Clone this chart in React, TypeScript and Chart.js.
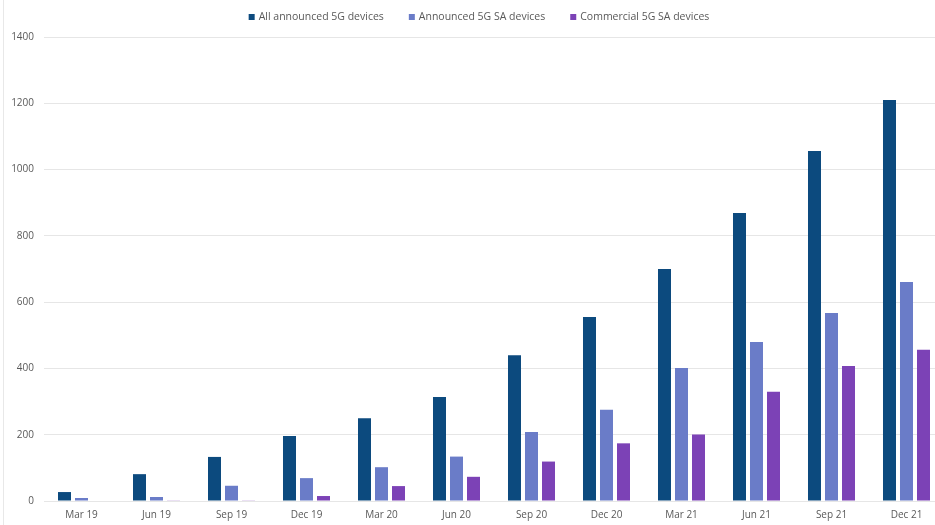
import React, { useEffect, useRef } from "react";
import { Chart, registerables } from "chart.js";

Chart.register(...registerables);

const quarters = [
  "Mar 19", "Jun 19", "Sep 19", "Dec 19", "Mar 20", "Jun 20",
  "Sep 20", "Dec 20", "Mar 21", "Jun 21", "Sep 21", "Dec 21",
];

const allAnnounced5G = [27, 81, 133, 196, 250, 314, 440, 555, 700, 869, 1056, 1210];
const announced5GSA = [9, 12, 46, 69, 102, 134, 208, 275, 401, 480, 567, 661];
const commercial5GSA = [0, 2, 2, 15, 45, 73, 119, 174, 201, 330, 407, 456];

const yTicks = [0, 200, 400, 600, 800, 1000, 1200, 1400];

const FONT_FAMILY = "'Open Sans', 'Liberation Sans', sans-serif";
const TEXT_COLOR = "#595959";

// Legend row drawn across the top, centred over the series swatches
const topLegend = {
  id: "topLegend",
  afterDraw(chart: any) {
    const ctx = chart.ctx as CanvasRenderingContext2D;
    const box = 6;
    const boxGap = 4;
    const itemGap = 25;
    const y = 17;
    ctx.save();
    ctx.font = `10.5px ${FONT_FAMILY}`;
    ctx.textBaseline = "middle";
    ctx.textAlign = "left";
    const items = chart.data.datasets.map((d: any) => ({
      text: d.label as string,
      color: d.backgroundColor as string,
      w: ctx.measureText(d.label).width,
    }));
    const total =
      items.reduce((s: number, it: any) => s + box + boxGap + it.w, 0) +
      itemGap * (items.length - 1);
    let x = 479 - total / 2;
    for (const it of items) {
      ctx.fillStyle = it.color;
      ctx.fillRect(x, y - box / 2, box, box);
      x += box + boxGap;
      ctx.fillStyle = TEXT_COLOR;
      ctx.fillText(it.text, x, y);
      x += it.w + itemGap;
    }
    ctx.restore();
  },
};

export default function App() {
  const canvasRef = useRef<HTMLCanvasElement | null>(null);

  useEffect(() => {
    document.body.style.margin = "0";
    const canvas = canvasRef.current;
    if (!canvas) return;
    const font = { family: FONT_FAMILY, size: 10 };
    const chart = new Chart(canvas, {
      type: "bar",
      data: {
        labels: quarters,
        datasets: [
          { label: "All announced 5G devices", data: allAnnounced5G, backgroundColor: "#0c4a7e" },
          { label: "Announced 5G SA devices", data: announced5GSA, backgroundColor: "#6a7cc8" },
          { label: "Commercial 5G SA devices", data: commercial5GSA, backgroundColor: "#7c42b6" },
        ],
      },
      plugins: [topLegend],
      options: {
        animation: false,
        responsive: false,
        maintainAspectRatio: false,
        layout: { padding: { left: 7, right: 0, top: 37, bottom: 0 } },
        datasets: {
          bar: { categoryPercentage: 0.68, barPercentage: 0.765 },
        },
        plugins: {
          tooltip: { enabled: false },
          legend: { display: false },
        },
        scales: {
          x: {
            grid: { display: false, drawTicks: false },
            border: { display: false },
            ticks: { color: TEXT_COLOR, font, padding: 8, maxRotation: 0 },
            afterFit: (s: any) => {
              s.height = 24;
            },
          },
          y: {
            min: 0,
            max: 1400,
            afterBuildTicks: (s: any) => {
              s.ticks = yTicks.map((v) => ({ value: v }));
            },
            afterFit: (s: any) => {
              s.width = 37;
            },
            grid: { color: "#e6e6e6", drawTicks: false },
            border: { display: false },
            ticks: {
              color: TEXT_COLOR,
              font,
              padding: 10,
              callback: (v: any) => String(v),
            },
          },
        },
      },
    });
    return () => chart.destroy();
  }, []);

  // The plot runs a few pixels past the visible frame on the right, so the
  // canvas is wider than its clipping container.
  return (
    <div style={{ position: "relative", width: 935, height: 525, background: "#fff", overflow: "hidden" }}>
      <div style={{ position: "absolute", left: 3, top: 0, width: 1, height: 525, background: "#e8e8e8", zIndex: 1 }} />
      <canvas ref={canvasRef} width={944} height={525} style={{ display: "block" }} />
    </div>
  );
}
